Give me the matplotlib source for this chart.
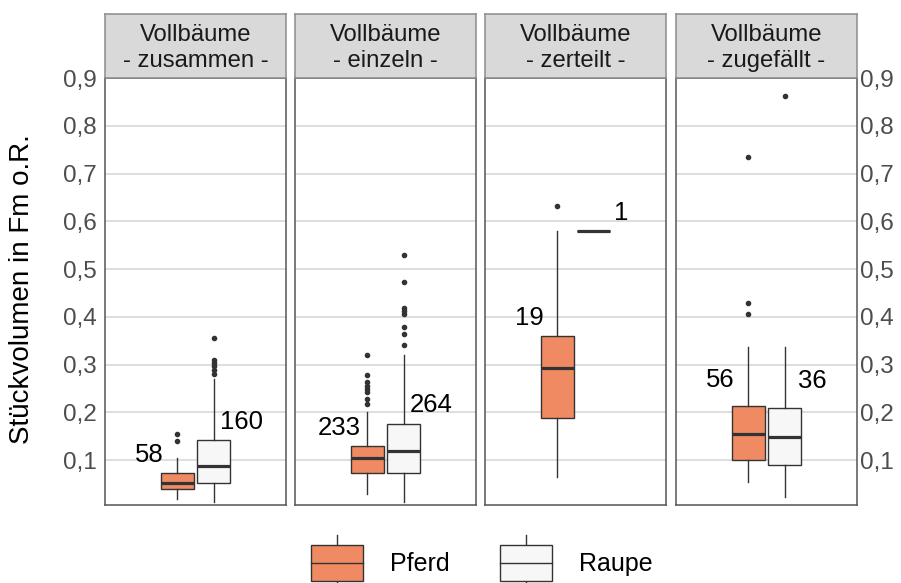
import matplotlib.pyplot as plt
from matplotlib.patches import Rectangle
from matplotlib.lines import Line2D

plt.rcParams['font.family'] = ['Liberation Sans', 'DejaVu Sans']

# facets and group sizes
facets = ['Vollbäume\n- zusammen -', 'Vollbäume\n- einzeln -',
          'Vollbäume\n- zerteilt -', 'Vollbäume\n- zugefällt -']
groups = ['Pferd', 'Raupe']
n_pferd = [58, 233, 19, 56]
n_raupe = [160, 264, 1, 36]

# box statistics (Fm o.R.)
pferd_q1 = [0.039, 0.0735, 0.189, 0.100]
pferd_med = [0.053, 0.105, 0.2935, 0.155]
pferd_q3 = [0.072, 0.129, 0.359, 0.213]
pferd_lo = [0.018, 0.028, 0.064, 0.055]
pferd_hi = [0.1035, 0.201, 0.580, 0.3365]
pferd_out = [[0.140, 0.154],
             [0.218, 0.228, 0.242, 0.249, 0.256, 0.263, 0.279, 0.321],
             [0.631],
             [0.406, 0.428, 0.735]]

raupe_q1 = [0.0514, 0.0735, 0.580, 0.090]
raupe_med = [0.088, 0.119, 0.580, 0.149]
raupe_q3 = [0.142, 0.1766, 0.580, 0.210]
raupe_lo = [0.013, 0.013, 0.580, 0.022]
raupe_hi = [0.269, 0.321, 0.580, 0.3365]
raupe_out = [[0.281, 0.289, 0.297, 0.303, 0.310, 0.355],
             [0.340, 0.364, 0.378, 0.406, 0.413, 0.418, 0.472, 0.529],
             [],
             [0.863]]

yticks = [0.1, 0.2, 0.3, 0.4, 0.5, 0.6, 0.7, 0.8, 0.9]
ytick_labels = ['0,1', '0,2', '0,3', '0,4', '0,5', '0,6', '0,7', '0,8', '0,9']

colors = {'Pferd': '#EF8A62', 'Raupe': '#F7F7F7'}
edge = '#333333'
W, H = 901, 583


def px(x0, y0, x1, y1):
    return [x0 / W, 1 - y1 / H, (x1 - x0) / W, (y1 - y0) / H]


fig = plt.figure(figsize=(W / 100, H / 100), dpi=100)

lefts = [105, 295, 485, 676]
pos = {'Pferd': -0.12, 'Raupe': 0.12}
label_dx = {'Pferd': -0.185, 'Raupe': 0.185}
label_off = [0.038, 0.038, 0.038, 0.055]

for i, x0 in enumerate(lefts):
    ax = fig.add_axes(px(x0, 78, x0 + 181, 505))

    stats = {
        'Pferd': dict(q1=pferd_q1[i], med=pferd_med[i], q3=pferd_q3[i],
                      whislo=pferd_lo[i], whishi=pferd_hi[i], fliers=pferd_out[i]),
        'Raupe': dict(q1=raupe_q1[i], med=raupe_med[i], q3=raupe_q3[i],
                      whislo=raupe_lo[i], whishi=raupe_hi[i], fliers=raupe_out[i]),
    }
    counts = {'Pferd': n_pferd[i], 'Raupe': n_raupe[i]}
    for g in groups:
        ax.bxp([stats[g]], positions=[pos[g]], widths=0.22, patch_artist=True,
               showcaps=False, manage_ticks=False,
               boxprops=dict(facecolor=colors[g], edgecolor=edge, linewidth=1.0),
               medianprops=dict(color=edge, linewidth=2.3),
               whiskerprops=dict(color=edge, linewidth=1.0),
               flierprops=dict(marker='o', markersize=3.0, markerfacecolor=edge,
                               markeredgecolor=edge))
        ax.text(pos[g] + label_dx[g], stats[g]['q3'] + label_off[i], str(counts[g]),
                ha='center', va='center', fontsize=18.5, color='black')

    ax.set_xlim(-0.6, 0.6)
    ax.set_ylim(0.006, 0.898)
    ax.set_xticks([])
    ax.set_yticks(yticks)
    ax.yaxis.grid(True, color='#D4D4D4', linewidth=1.1)
    ax.set_axisbelow(True)
    for s in ax.spines.values():
        s.set_color('#555555')
        s.set_linewidth(1.1)

    if i == 0:
        ax.set_yticklabels(ytick_labels)
        ax.tick_params(axis='y', length=0, pad=6, labelsize=17.5, labelcolor='#4D4D4D')
    elif i == 3:
        ax.yaxis.tick_right()
        ax.set_yticklabels(ytick_labels)
        ax.tick_params(axis='y', length=0, pad=2.5, labelsize=17.5, labelcolor='#4D4D4D')
    else:
        ax.tick_params(axis='y', length=0, labelleft=False)

    # facet strip
    st = fig.add_axes(px(x0, 14, x0 + 181, 78))
    st.set_facecolor('#D9D9D9')
    st.set_xticks([])
    st.set_yticks([])
    for s in st.spines.values():
        s.set_color('#8C8C8C')
        s.set_linewidth(1.1)
    st.text(0.5, 0.47, facets[i], ha='center', va='center', fontsize=17.2,
            color='#1A1A1A', linespacing=1.2, transform=st.transAxes)

fig.text(22 / W, 1 - 289 / H, 'Stückvolumen in Fm o.R.', rotation=90,
         ha='center', va='center', fontsize=20, color='black')

# legend drawn by hand, ggplot style keys
lg = fig.add_axes([0, 0, 1, 1], zorder=-1)
lg.set_xlim(0, W)
lg.set_ylim(H, 0)
lg.axis('off')
for g, kx, tx in [('Pferd', 311, 390), ('Raupe', 500, 579)]:
    cx = kx + 26
    lg.add_line(Line2D([cx, cx], [535, 583], color=edge, linewidth=1.0))
    lg.add_patch(Rectangle((kx, 545), 52, 36, facecolor=colors[g],
                           edgecolor=edge, linewidth=1.0, zorder=3))
    lg.add_line(Line2D([kx, kx + 52], [563, 563], color=edge, linewidth=1.0, zorder=4))
    lg.text(tx, 564, g, ha='left', va='center', fontsize=18, color='black')

fig.savefig('out.png', dpi=100)
